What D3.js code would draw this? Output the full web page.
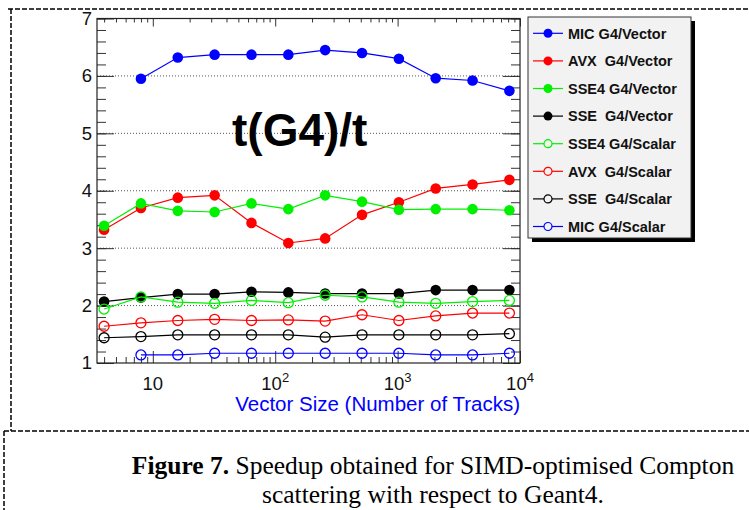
<!DOCTYPE html>
<html>
<head>
<meta charset="utf-8">
<script src="https://cdn.jsdelivr.net/npm/d3@7"></script>
<style>
  body { margin: 0; background: #fff; }
  svg { display: block; }
  text { font-family: "Liberation Sans", Arial, Helvetica, sans-serif; }
  .caption { font-family: "Liberation Serif", "Times New Roman", serif; }
</style>
</head>
<body>
<div id="chart"></div>
<script>
// data
var sizes = [4, 8, 16, 32, 64, 128, 256, 512, 1024, 2048, 4096, 8192];
var micVector  = [null, 5.95, 6.32, 6.37, 6.37, 6.37, 6.45, 6.40, 6.30, 5.96, 5.92, 5.74];
var avxVector  = [3.32, 3.70, 3.88, 3.92, 3.44, 3.09, 3.17, 3.58, 3.80, 4.04, 4.11, 4.19];
var sse4Vector = [3.39, 3.78, 3.65, 3.63, 3.78, 3.68, 3.92, 3.81, 3.67, 3.68, 3.68, 3.66];
var sseVector  = [2.07, 2.14, 2.20, 2.20, 2.24, 2.23, 2.21, 2.21, 2.21, 2.27, 2.27, 2.27];
var sse4Scalar = [1.94, 2.15, 2.06, 2.04, 2.09, 2.05, 2.18, 2.15, 2.06, 2.04, 2.07, 2.09];
var avxScalar  = [1.64, 1.70, 1.74, 1.76, 1.74, 1.75, 1.73, 1.84, 1.74, 1.82, 1.87, 1.87];
var sseScalar  = [1.44, 1.46, 1.49, 1.49, 1.49, 1.49, 1.45, 1.49, 1.49, 1.49, 1.49, 1.51];
var micScalar  = [null, 1.14, 1.14, 1.17, 1.17, 1.17, 1.17, 1.17, 1.17, 1.14, 1.14, 1.17];

var seriesNames = ["MIC G4/Vector", "AVX  G4/Vector", "SSE4 G4/Vector", "SSE  G4/Vector",
                   "SSE4 G4/Scalar", "AVX  G4/Scalar", "SSE  G4/Scalar", "MIC G4/Scalar"];
var seriesValues = [micVector, avxVector, sse4Vector, sseVector, sse4Scalar, avxScalar, sseScalar, micScalar];
var seriesColors = ["#0000ff", "#ff0000", "#00f000", "#000000", "#00f000", "#ff0000", "#000000", "#0000ff"];
var seriesFilled = [true, true, true, true, false, false, false, false];

var yTicks = [1, 2, 3, 4, 5, 6, 7];
var xTickLabels = [10, 100, 1000, 10000];
var xTickExp = ["", "2", "3", "4"];

var W = 749, H = 510;
var frame = {left: 97, right: 520, top: 18.5, bottom: 363};

var svg = d3.select("#chart")
  .append("svg")
  .attr("width", W)
  .attr("height", H);

// dashed page borders
var dash = "5,2";
svg.append("line").attr("x1", 8).attr("x2", W).attr("y1", 9).attr("y2", 9)
  .attr("stroke", "#000").attr("stroke-width", 1.5).attr("stroke-dasharray", dash);
svg.append("line").attr("x1", 11).attr("x2", 11).attr("y1", 9).attr("y2", 431)
  .attr("stroke", "#000").attr("stroke-width", 1.5).attr("stroke-dasharray", dash);
svg.append("line").attr("x1", 4).attr("x2", W).attr("y1", 431).attr("y2", 431)
  .attr("stroke", "#000").attr("stroke-width", 1.5).attr("stroke-dasharray", dash);
svg.append("line").attr("x1", 4).attr("x2", 4).attr("y1", 431).attr("y2", H)
  .attr("stroke", "#000").attr("stroke-width", 1.5).attr("stroke-dasharray", dash);

// scales
var x = d3.scaleLog()
  .domain([3.5, 10000])
  .range([frame.left, frame.right]);
var y = d3.scaleLinear()
  .domain([1, 7])
  .range([frame.bottom, frame.top]);

// dotted horizontal grid
svg.append("g")
  .selectAll("line")
  .data(yTicks.slice(1, -1))
  .enter()
  .append("line")
    .attr("x1", frame.left)
    .attr("x2", frame.right)
    .attr("y1", function(d) { return y(d); })
    .attr("y2", function(d) { return y(d); })
    .attr("stroke", "#555")
    .attr("stroke-dasharray", "1,2");

// y axes (ticks point inward, ROOT style)
var minorY = d3.range(1, 7.001, 0.2);
svg.append("g")
  .attr("transform", "translate(" + frame.left + ",0)")
  .call(d3.axisLeft(y).tickValues(minorY).tickSize(-9).tickFormat(""))
  .call(function(g) { g.select(".domain").remove(); });
svg.append("g")
  .attr("class", "yaxis")
  .attr("transform", "translate(" + frame.left + ",0)")
  .call(d3.axisLeft(y).tickValues(yTicks).tickSize(-17).tickPadding(5).tickFormat(d3.format("d")))
  .call(function(g) { g.select(".domain").remove(); });
svg.append("g")
  .attr("transform", "translate(" + frame.right + ",0)")
  .call(d3.axisRight(y).tickValues(minorY).tickSize(-9).tickFormat(""))
  .call(function(g) { g.select(".domain").remove(); });
svg.append("g")
  .attr("transform", "translate(" + frame.right + ",0)")
  .call(d3.axisRight(y).tickValues(yTicks).tickSize(-17).tickFormat(""))
  .call(function(g) { g.select(".domain").remove(); });
svg.selectAll(".yaxis text")
  .style("font-size", "18.5px")
  .style("font-family", "'Liberation Sans', Arial, sans-serif")
  .attr("fill", "#111");

// x axes (log)
var minorX = [];
[1, 10, 100, 1000].forEach(function(dec) {
  for (var k = 2; k <= 9; k++) {
    if (k * dec >= 3.5) minorX.push(k * dec);
  }
});
svg.append("g")
  .attr("transform", "translate(0," + frame.bottom + ")")
  .call(d3.axisBottom(x).tickValues(minorX).tickSize(-6).tickFormat(""))
  .call(function(g) { g.select(".domain").remove(); });
svg.append("g")
  .attr("transform", "translate(0," + frame.bottom + ")")
  .call(d3.axisBottom(x).tickValues(xTickLabels).tickSize(-12).tickFormat(""))
  .call(function(g) { g.select(".domain").remove(); });
svg.append("g")
  .attr("transform", "translate(0," + frame.top + ")")
  .call(d3.axisTop(x).tickValues(minorX).tickSize(-4).tickFormat(""))
  .call(function(g) { g.select(".domain").remove(); });
svg.append("g")
  .attr("transform", "translate(0," + frame.top + ")")
  .call(d3.axisTop(x).tickValues(xTickLabels).tickSize(-8).tickFormat(""))
  .call(function(g) { g.select(".domain").remove(); });
svg.selectAll(".tick line").attr("stroke", "#333");

// x tick labels with superscripts
var xl = svg.append("g")
  .selectAll("text")
  .data(xTickLabels)
  .enter()
  .append("text")
    .attr("x", function(d) { return x(d); })
    .attr("y", 390)
    .attr("text-anchor", "middle")
    .style("font-size", "18.5px")
    .attr("fill", "#111");
xl.append("tspan").text("10");
xl.append("tspan")
  .attr("dy", -8)
  .style("font-size", "13px")
  .text(function(d, i) { return xTickExp[i]; });

// frame
svg.append("rect")
  .attr("x", frame.left)
  .attr("y", frame.top)
  .attr("width", frame.right - frame.left)
  .attr("height", frame.bottom - frame.top)
  .attr("fill", "none")
  .attr("stroke", "#222")
  .attr("stroke-width", 1.2);

// axis title
svg.append("text")
  .attr("text-anchor", "end")
  .attr("x", frame.right)
  .attr("y", 411)
  .style("font-size", "20.5px")
  .attr("fill", "#0000ff")
  .text("Vector Size (Number of Tracks)");

// big label in the plot
svg.append("text")
  .attr("x", 232)
  .attr("y", 146)
  .style("font-size", "46px")
  .style("font-weight", "bold")
  .text("t(G4)/t");

// series
var line = d3.line()
  .defined(function(d) { return d[1] != null; })
  .x(function(d) { return x(d[0]); })
  .y(function(d) { return y(d[1]); });

seriesValues.forEach(function(vals, i) {
  var pts = sizes.map(function(s, j) { return [s, vals[j]]; });
  svg.append("path")
    .datum(pts)
    .attr("d", line)
    .attr("fill", "none")
    .attr("stroke", seriesColors[i])
    .attr("stroke-width", 1.2);
  svg.append("g")
    .selectAll("circle")
    .data(pts.filter(function(d) { return d[1] != null; }))
    .enter()
    .append("circle")
      .attr("cx", function(d) { return x(d[0]); })
      .attr("cy", function(d) { return y(d[1]); })
      .attr("r", seriesFilled[i] ? 5.3 : 5)
      .attr("fill", seriesFilled[i] ? seriesColors[i] : "none")
      .attr("stroke", seriesColors[i])
      .attr("stroke-width", seriesFilled[i] ? 0 : 1.3);
});

// legend
var lg = {x: 528, y: 17, w: 163, h: 221};
svg.append("rect")
  .attr("x", lg.x + 4).attr("y", lg.y + 4)
  .attr("width", lg.w).attr("height", lg.h)
  .attr("fill", "#000");
svg.append("rect")
  .attr("x", lg.x).attr("y", lg.y)
  .attr("width", lg.w).attr("height", lg.h)
  .attr("fill", "#f2f2f2")
  .attr("stroke", "#333");

var rows = svg.append("g")
  .selectAll("g")
  .data(seriesNames)
  .enter()
  .append("g")
    .attr("transform", function(d, i) { return "translate(0," + (33.3 + i * 27.6) + ")"; });
rows.append("line")
  .attr("x1", 533).attr("x2", 563)
  .attr("stroke", function(d, i) { return seriesColors[i]; })
  .attr("stroke-width", 1.2);
rows.append("circle")
  .attr("cx", 548)
  .attr("r", function(d, i) { return seriesFilled[i] ? 4.5 : 4; })
  .attr("fill", function(d, i) { return seriesFilled[i] ? seriesColors[i] : "#f2f2f2"; })
  .attr("stroke", function(d, i) { return seriesColors[i]; })
  .attr("stroke-width", function(d, i) { return seriesFilled[i] ? 0 : 1.2; });
rows.append("text")
  .attr("x", 568)
  .attr("dy", "0.36em")
  .style("font-size", "14.5px")
  .style("font-weight", "bold")
  .style("white-space", "pre")
  .attr("fill", "#111")
  .text(function(d) { return d; });

// caption
var cap = svg.append("text")
  .attr("class", "caption")
  .attr("x", 433)
  .attr("y", 474)
  .attr("text-anchor", "middle")
  .style("font-size", "25.5px");
cap.append("tspan").style("font-weight", "bold").text("Figure 7.");
cap.append("tspan").text(" Speedup obtained for SIMD-optimised Compton");
svg.append("text")
  .attr("class", "caption")
  .attr("x", 433)
  .attr("y", 503)
  .attr("text-anchor", "middle")
  .style("font-size", "25.5px")
  .text("scattering with respect to Geant4.");
</script>
</body>
</html>
